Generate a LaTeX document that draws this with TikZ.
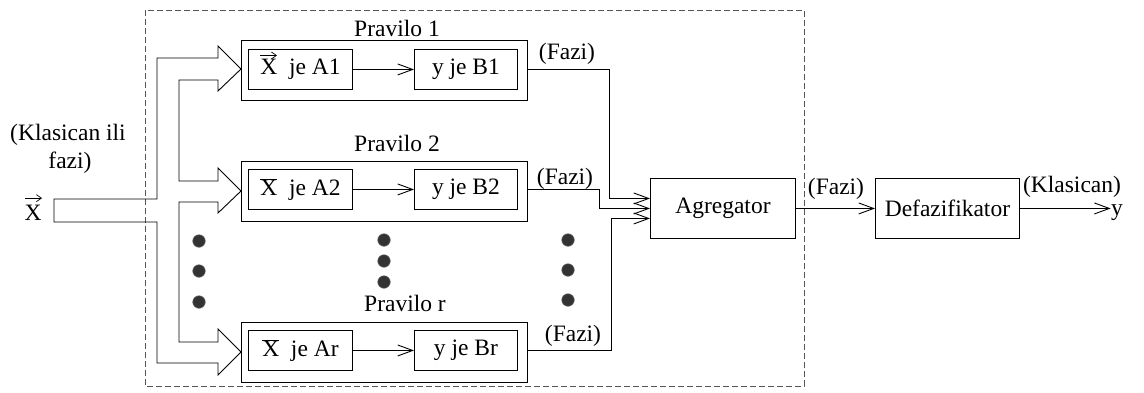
\documentclass[tikz,border=0pt]{standalone}
\usepackage{fontspec}
\setmainfont{Liberation Serif}
\usetikzlibrary{arrows.meta}
\definecolor{dotc}{HTML}{333333}
\definecolor{dashc}{HTML}{555555}
\newcommand{\bX}{\ensuremath{\overline{\mbox{X}}}}
\begin{document}
\begin{tikzpicture}[x=1pt,y=-1pt,
  font=\fontsize{23.5}{28}\selectfont,
  line width=0.9pt,
  outbox/.style={draw, rectangle, inner sep=0pt, anchor=north west, minimum width=286pt, minimum height=60pt},
  inbox/.style={draw, rectangle, inner sep=0pt, anchor=north west, minimum height=40pt},
  blockbox/.style={draw, rectangle, inner sep=0pt, anchor=north west, minimum width=145pt, minimum height=60pt},
  barb/.style={-{Straight Barb[length=15pt,width=11pt]}},
  vecarrow/.style={line width=0.7pt, -{Straight Barb[length=5pt,width=7pt]}},
  lbl/.style={anchor=base, inner sep=0pt},
  dot/.style={fill=dotc, draw=dotc!70, line width=0.5pt}]
\useasboundingbox (0,0) rectangle (1144,392);

% dashed frame
\draw[dashc, dash pattern=on 6pt off 3pt] (145,10) rectangle (804,386);

% hollow input arrow
\draw (54,199) -- (157,199) -- (157,58) -- (218,58) -- (218,46) -- (241,69) -- (218,91) -- (218,80)
  -- (179,80) -- (179,181) -- (218,181) -- (218,168) -- (241,191) -- (218,213) -- (218,202)
  -- (179,202) -- (179,342) -- (218,342) -- (218,329) -- (241,352) -- (218,375) -- (218,363)
  -- (157,363) -- (157,222) -- (54,222) -- cycle;

% left labels
\node[lbl] (in1) at (68,140) {(Klasican ili};
\node[lbl] (in2) at (70,168) {fazi)};
\node[lbl] (inX) at (33,220) {X};
\draw[vecarrow] ([xshift=-8pt,yshift=6pt]inX.north) -- ++(17,0);

% rule 1
\node[outbox] (R1) at (241,40) {};
\node[inbox, minimum width=104pt] (A1) at (248,49) {X\ \ je A1};
\node[inbox, minimum width=103pt] (B1) at (414,49) {y je B1};
\node[lbl] (P1) at (397,36) {Pravilo 1};
\draw[vecarrow] ([xshift=12pt,yshift=14pt]A1.west) -- ++(17,0);
\draw[barb] (A1) -- (B1);

% rule 2
\node[outbox] (R2) at (241,161) {};
\node[inbox, minimum width=104pt] (A2) at (248,169) {\bX\ \ je A2};
\node[inbox, minimum width=103pt] (B2) at (414,169) {y je B2};
\node[lbl] (P2) at (397,151) {Pravilo 2};
\draw[barb] (A2) -- (B2);

% rule r
\node[outbox] (Rr) at (241,322) {};
\node[inbox, minimum width=104pt] (Ar) at (248,330) {\bX\ \ je Ar};
\node[inbox, minimum width=103pt] (Br) at (414,330) {y je Br};
\node[lbl] (Pr) at (405,311) {Pravilo r};
\draw[barb] (Ar) -- (Br);

% dots
\foreach \x/\y in {199/241,199/271,199/302,384/240,384/261,384/282,568/240,568/270,568/300}
  \draw[dot] (\x,\y) circle (6.3pt);

% aggregator and defuzzifier
\node[blockbox] (agg) at (650,178) {Agregator};
\node[blockbox, minimum width=144pt] (def) at (875,178) {Defazifikator};
\node[lbl] (yout) at (1117,215) {y};

% fuzzy outputs
\draw[barb] (A1.center -| R1.east) -- ++(82,0) |- ([yshift=10pt]agg.west);
\draw[barb] (A2.center -| R2.east) -- ++(72,0) |- (agg.west);
\draw[barb] (Ar.center -| Rr.east) -- ++(84,0) |- ([yshift=-10pt]agg.west);
\node[lbl] (F1) at (567,59) {(Fazi)};
\node[lbl] (F2) at (565,184) {(Fazi)};
\node[lbl] (Fr) at (573,341) {(Fazi)};

\draw[barb] (agg.east) -- (def.west);
\node[lbl] (F4) at (836,194) {(Fazi)};
\draw[barb] (def.east) -- (yout.west |- def.east);
\node[lbl] (K) at (1072,192) {(Klasican)};
\end{tikzpicture}
\end{document}
